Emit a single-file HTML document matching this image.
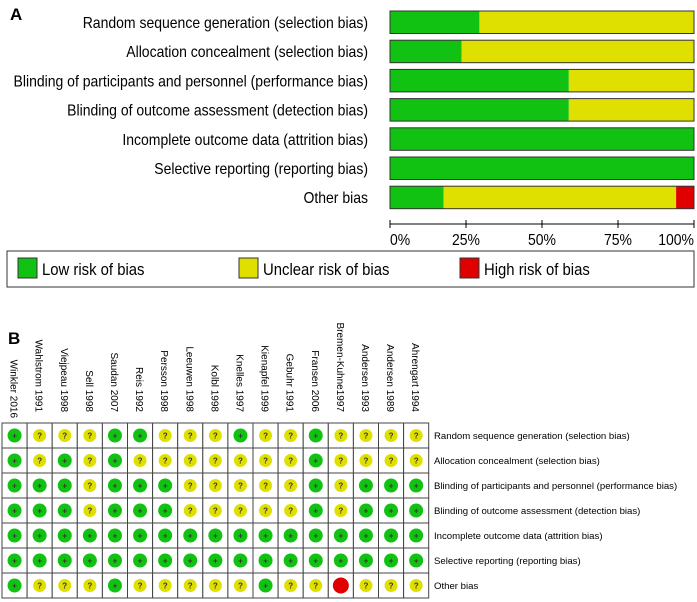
<!DOCTYPE html>
<html><head><meta charset="utf-8"><style>
body{margin:0;background:#fff;width:697px;height:602px;overflow:hidden}
svg{display:block;font-family:"Liberation Sans",Arial,sans-serif}
</style></head><body>
<svg id="c" width="697" height="602" viewBox="0 0 697 602">
<text x="10" y="20" font-size="17" font-weight="bold">A</text>
<text x="8" y="344" font-size="17" font-weight="bold">B</text>
<g id="pa"></g>
<g id="pb"></g>
</svg>
<script>
const domains=["Random sequence generation (selection bias)","Allocation concealment (selection bias)","Blinding of participants and personnel (performance bias)","Blinding of outcome assessment (detection bias)","Incomplete outcome data (attrition bias)","Selective reporting (reporting bias)","Other bias"];
const studies=["Winkler 2016","Wahlstrom 1991","Viejpeau 1998","Sell 1998","Saudan 2007","Reis 1992","Persson 1998","Leeuwen 1998","Kolbl 1998","Knelles 1997","Kienapfel 1999","Gebuhr 1991","Fransen 2006","Bremen-Kuhne1997","Andersen 1993","Andersen 1989","Ahrengart 1994"];
// judgements per domain row: L low, U unclear, H high
const judgements=[
"LUUULLUUULUULUUUU",
"LULULUUUUUUULUUUU",
"LLLULLLUUUUULULLL",
"LLLULLLUUUUULULLL",
"LLLLLLLLLLLLLLLLL",
"LLLLLLLLLLLLLLLLL",
"LUUULUUUUULUUHUUU"];
const ticks=[0,25,50,75,100];
const tickLabels=["0%","25%","50%","75%","100%"];
const col={L:"#12c212",U:"#e0e000",H:"#e00000"};
const NS="http://www.w3.org/2000/svg";
const SX=0.875;
function el(t,a,p){const e=document.createElementNS(NS,t);for(const k in a)e.setAttribute(k,a[k]);p.appendChild(e);return e;}
function ctext(x,y,size,anchor,str,p){
  return el('text',{x:x/SX,y:y,'font-size':size,'text-anchor':anchor,transform:`scale(${SX},1)`},p);
}
const pa=document.getElementById('pa'),pb=document.getElementById('pb');
const x0=390,x1=694;const xs=v=>x0+(x1-x0)*v/100;
domains.forEach((d,i)=>{
  const y=11+i*29.2;
  const t=ctext(368,y+17,16,'end',d,pa);t.textContent=d;
  
  
  const row=judgements[i];const n=row.length;
  let acc=0;
  ["L","U","H"].forEach(k=>{
    const c=row.split('').filter(z=>z===k).length;if(!c)return;
    const p=c/n*100;
    const r=el('rect',{x:xs(acc),y:y,width:xs(acc+p)-xs(acc),height:22.5,fill:col[k]},pa);
    
    
    acc+=p;
  });
  const b=el('rect',{x:x0,y:y,width:x1-x0,height:22.5,fill:'none',stroke:'#333','stroke-width':1},pa);
  
  
});
const ax=el('line',{x1:x0,y1:224,x2:x1,y2:224,stroke:'#000'},pa);


ticks.forEach((v,i)=>{
  el('line',{x1:xs(v),y1:220,x2:xs(v),y2:228,stroke:'#000'},pa);
  const t=ctext(i==4?x1:(i==0?x0:xs(v)),245,16,i==0?'start':(i==4?'end':'middle'),'',pa);
  t.textContent=tickLabels[i];
  
  
});
const lg=el('rect',{x:7,y:251,width:687,height:36,fill:'#fff',stroke:'#333'},pa);


[["L","Low risk of bias",18],["U","Unclear risk of bias",239],["H","High risk of bias",460]].forEach(([k,s,x])=>{
  el('rect',{x:x,y:258,width:19,height:20,fill:col[k],stroke:'#333'},pa);
  const t=ctext(x+24,275,17,'start','',pa);t.textContent=s;
  
  
});
// panel B
const gx=2,gy=423,cw=25.1,ch=25;
studies.forEach((s,j)=>{
  const cx=gx+cw*j+cw/2;
  const t=el('text',{x:0,y:0,'font-size':10,'text-anchor':'end',transform:`translate(${cx-4},${j==0?418:412}) rotate(90)`},pb);
  t.textContent=s;
  
  
});
domains.forEach((d,i)=>{
  const t=el('text',{x:434,y:gy+ch*i+16,'font-size':9.6},pb);t.textContent=d;
  
  
  studies.forEach((s,j)=>{
    const x=gx+cw*j,y=gy+ch*i;
    el('rect',{x:x,y:y,width:cw,height:ch,fill:'#fff',stroke:'#444','stroke-width':1},pb);
    const k=judgements[i][j];
    const c=el('circle',{cx:x+cw/2,cy:y+ch/2,r:k=='L'?7:(k=='H'?8:6.5),fill:col[k]},pb);
    
    
    if(k!='H'){const g=el('text',{x:x+cw/2,y:y+ch/2+3,'font-size':8,'font-weight':'bold','text-anchor':'middle',fill:'#333'},pb);g.textContent=k=='L'?'+':'?';}
  });
});
</script>
</body></html>
